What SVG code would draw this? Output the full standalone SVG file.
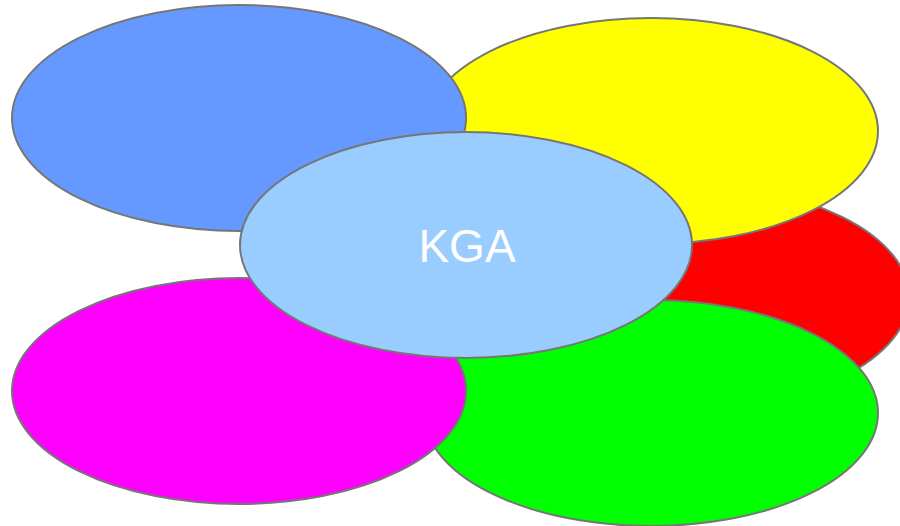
<svg xmlns="http://www.w3.org/2000/svg" width="900" height="526" viewBox="0 0 900 526">
<style>
.e{stroke:#767676;stroke-width:2}
.t{font-family:"Liberation Sans",Arial,sans-serif;font-size:46px;fill:#ffffff;text-anchor:middle}
</style>
<rect width="900" height="526" fill="#ffffff"/>
<g id="red"><ellipse class="e" cx="682" cy="297" rx="227" ry="113" fill="#ff0000"/></g>
<g id="yellow"><ellipse class="e" cx="651" cy="131" rx="227" ry="113" fill="#ffff00"/></g>
<g id="green"><ellipse class="e" cx="651" cy="413" rx="227" ry="113" fill="#00ff00"/></g>
<g id="blue"><ellipse class="e" cx="239" cy="118" rx="227" ry="113" fill="#6699ff"/></g>
<g id="magenta"><ellipse class="e" cx="239" cy="391" rx="227" ry="113" fill="#ff00ff"/></g>
<g id="kga"><ellipse class="e" cx="466" cy="245" rx="226" ry="113" fill="#99ccff"/><text class="t" x="467" y="262">KGA</text></g>
<g id="connectors"/>
</svg>
